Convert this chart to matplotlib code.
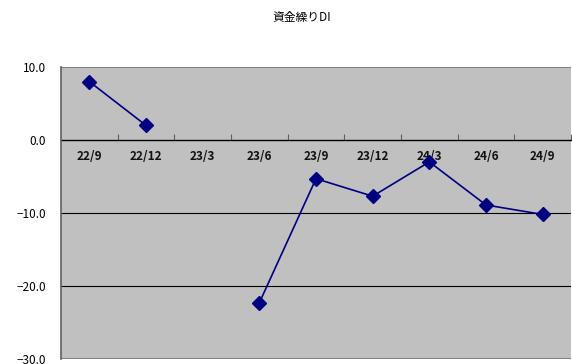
import matplotlib
matplotlib.use("Agg")
import matplotlib.pyplot as plt
import numpy as np

plt.rcParams['font.family'] = ['Noto Sans CJK JP', 'DejaVu Sans']

# Quarterly cash-flow DI (23/3 has no reading)
quarters = ["22/9", "22/12", "23/3", "23/6", "23/9", "23/12", "24/3", "24/6", "24/9"]
di_values = [8.0, 2.0, np.nan, -22.3, -5.3, -7.7, -3.0, -8.9, -10.2]
y_ticks = [10, 0, -10, -20, -30]

fig = plt.figure(figsize=(5.72, 3.64), dpi=100)
ax = fig.add_axes([61 / 572, 5 / 364, 510 / 572, 292 / 364])
ax.set_facecolor("#C0C0C0")

x = np.arange(len(quarters))
ax.plot(x, di_values, color="#000080", linewidth=1.2, marker="D",
        markersize=7.5, zorder=5, clip_on=False)

ax.set_xlim(-0.5, len(quarters) - 0.5)
ax.set_ylim(-30, 10)

# horizontal grid lines
for v in [-10, -20]:
    ax.axhline(v, color="black", linewidth=0.8, zorder=1)
ax.axhline(10, color="#808080", linewidth=1.5, zorder=1)
ax.axhline(-30, color="#808080", linewidth=1.5, zorder=1)

# category axis crosses at zero
ax.spines['bottom'].set_position(('data', 0))
ax.spines['bottom'].set_color("black")
ax.spines['bottom'].set_linewidth(1.0)
ax.spines['bottom'].set_zorder(2)
ax.spines['top'].set_visible(False)
ax.spines['right'].set_visible(False)
ax.spines['left'].set_color("#606060")
ax.spines['left'].set_linewidth(1.2)

ax.set_xticks(x)
ax.set_xticklabels(quarters, fontsize=8.5, fontweight="semibold", color="#111111")
ax.tick_params(axis='x', which='major', length=0, pad=7)
ax.set_xticks(np.arange(len(quarters)) + 0.5, minor=True)
ax.tick_params(axis='x', which='minor', direction='in', length=4,
               color="#606060", width=0.8)

ax.set_yticks(y_ticks)
ax.set_yticklabels([f"{v:.1f}".replace("-", "\u2212") for v in y_ticks],
                   fontsize=8.5, color="black")
ax.tick_params(axis='y', length=0, pad=11)

fig.text(302 / 572, 1 - 18 / 364, "資金繰りDI", ha="center", va="center",
         fontsize=8.5, color="black")

fig.savefig("out.png", dpi=100)
